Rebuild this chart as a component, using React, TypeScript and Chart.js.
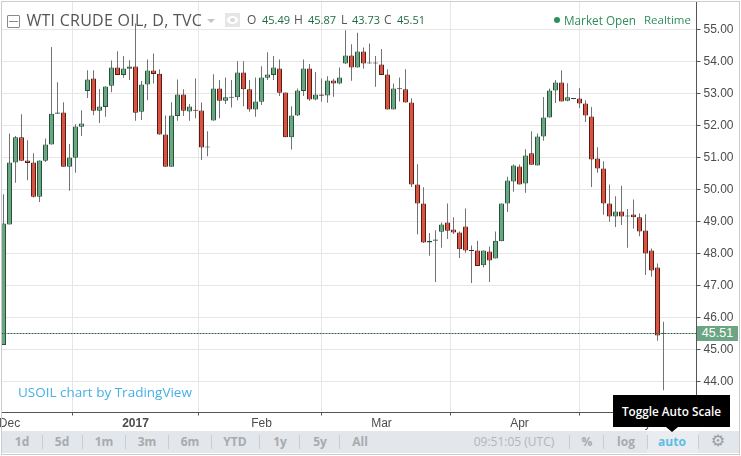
import React, { useEffect, useRef } from "react";
import { Chart, registerables } from "chart.js";

Chart.register(...registerables);

const opens = [45.14,48.91,50.84,51.63,50.91,50.84,49.77,50.90,51.41,52.37,52.41,50.71,50.99,51.96,53.08,53.47,52.46,52.58,53.24,53.81,53.58,53.77,53.84,52.43,53.28,53.72,53.62,51.72,50.71,52.30,52.97,52.44,52.48,52.47,51.31,52.16,53.16,52.77,52.87,52.88,53.66,53.13,52.50,52.74,53.49,53.58,53.78,53.03,51.63,52.31,53.08,53.78,52.81,52.97,52.94,53.41,53.31,53.94,54.19,53.81,54.31,53.94,53.97,53.91,53.59,52.50,53.16,53.13,52.72,50.16,49.56,48.34,48.40,48.68,48.97,48.75,48.66,48.84,48.10,48.09,47.63,48.06,47.84,48.38,49.56,50.25,50.72,50.19,51.13,50.75,51.66,52.25,53.09,53.34,52.77,52.83,52.84,52.69,52.28,50.97,50.66,49.56,49.16,49.31,49.16,49.22,49.13,48.72,48.09,47.56,45.49];
const highs = [49.85,51.75,51.67,52.35,51.54,51.13,50.91,51.59,54.45,53.35,52.73,51.42,52.04,52.48,53.73,53.73,53.14,53.23,54.03,54.32,54.17,54.04,55.19,53.39,54.06,54.25,53.75,52.31,52.73,53.44,53.13,52.67,53.47,52.72,51.82,53.60,53.42,53.50,53.42,54.01,54.01,53.42,53.50,53.85,54.29,54.17,54.06,53.03,52.60,53.16,54.06,53.92,53.67,53.47,53.54,53.46,53.81,54.98,54.54,54.90,54.44,54.56,54.17,54.39,53.76,53.31,53.50,53.76,52.85,50.79,50.07,48.64,48.73,48.97,49.56,49.13,48.69,49.41,48.25,48.40,48.09,48.22,48.69,49.56,50.40,50.78,50.78,51.26,51.82,51.75,52.89,53.16,53.42,53.73,53.32,52.85,53.17,52.79,52.58,51.32,50.88,50.16,49.79,50.12,49.39,49.69,49.25,49.23,48.16,47.69,45.87];
const lows = [45.14,48.91,50.21,50.90,50.29,49.75,49.61,50.86,51.41,52.37,50.71,49.96,50.52,51.67,52.86,52.32,52.08,52.27,53.04,53.58,53.49,53.42,52.15,52.17,52.79,53.31,51.71,50.71,50.71,52.15,52.30,52.15,52.23,50.92,51.04,52.15,52.23,52.67,52.56,52.79,52.60,52.43,52.27,52.64,53.42,53.42,52.92,51.63,51.25,52.30,52.92,52.77,52.79,52.74,52.71,52.90,53.29,53.92,53.40,53.81,53.77,53.94,53.21,53.58,52.50,52.50,52.75,52.72,50.08,48.60,48.33,47.93,47.11,48.18,48.45,48.61,47.86,48.02,47.08,47.61,47.56,47.11,47.84,48.38,49.30,49.93,50.16,49.90,50.77,50.75,51.52,52.25,52.70,52.75,52.76,52.82,52.55,52.11,50.08,50.52,49.21,48.99,48.83,48.89,48.18,48.77,48.54,47.33,47.27,45.27,43.73];
const closes = [48.94,50.84,51.63,50.90,50.83,49.77,50.91,51.41,52.37,52.41,50.71,51.00,51.97,52.06,53.44,52.46,52.59,53.22,53.81,53.58,53.78,53.84,52.40,53.28,53.72,53.61,51.72,50.71,52.31,52.97,52.46,52.59,52.46,51.31,51.34,53.16,52.77,52.88,52.89,53.66,53.13,52.50,52.75,53.50,53.59,53.81,53.02,51.63,52.31,53.09,53.78,52.81,52.97,52.93,53.41,53.31,53.50,54.19,53.81,54.31,53.94,53.97,53.94,53.58,52.50,53.16,53.13,52.72,50.16,49.56,48.34,48.40,48.44,48.91,48.71,48.66,48.13,48.09,48.08,47.61,48.09,47.78,48.40,49.56,50.28,50.75,50.16,51.06,50.77,51.66,52.25,53.09,53.34,52.75,52.88,52.85,52.69,52.31,50.94,50.66,49.56,49.16,49.31,49.16,49.19,49.13,48.69,48.00,47.47,45.44,45.51];

const yTickValues = [44,45,46,47,48,49,50,51,52,53,54,55];
const xTickIndexes = [1,22,43,63,86,106];
const xTickLabels = ["Dec","2017","Feb","Mar","Apr","May"];
const priceLineLevel = 45.5;
const rangeButtons = ["1d","5d","1m","3m","6m","YTD","1y","5y","All"];
const rangeCenters = [22,62,104,147,190,235,280,320,360];
const separators = [42,82,125,168,211,259,299,339,569,603,647,698];

const candleIndex = opens.map((_, i) => i);
const isUp = (i: number) => closes[i] >= opens[i];

const txt = (
  s: string,
  left: number,
  cy: number,
  size: number,
  color: string,
  extra: React.CSSProperties = {}
) => (
  <span
    style={{
      position: "absolute",
      left,
      top: cy - 10,
      height: 20,
      lineHeight: "20px",
      fontSize: size,
      color,
      whiteSpace: "nowrap",
      fontFamily: "'Open Sans', sans-serif",
      ...extra,
    }}
  >
    {s}
  </span>
);

const mid = (s: string, cx: number, cy: number, size: number, color: string, extra: React.CSSProperties = {}) =>
  txt(s, cx, cy, size, color, { transform: "translateX(-50%)", ...extra });

export default function App() {
  const ref = useRef<HTMLCanvasElement>(null);
  useEffect(() => {
    const chart = new Chart(ref.current!, {
      type: "bar",
      data: {
        datasets: [
          {
            type: "line",
            data: [{ x: -1 / 3, y: priceLineLevel }, { x: 115.5, y: priceLineLevel }],
            borderColor: "#27613f",
            borderWidth: 1,
            borderDash: [2, 1],
            pointRadius: 0,
            order: 0,
          },
          {
            data: candleIndex.map((i) => ({ x: i, y: [Math.min(opens[i], closes[i]), Math.max(opens[i], closes[i])] })),
            backgroundColor: candleIndex.map((i) => (isUp(i) ? "#6ba583" : "#d75442")),
            borderColor: candleIndex.map((i) => (isUp(i) ? "#225437" : "#5b1a13")),
            borderWidth: 1,
            borderSkipped: false,
            inflateAmount: 0,
            barThickness: 5,
            minBarLength: 1,
            grouped: false,
            order: 1,
          },
          {
            data: candleIndex.map((i) => ({ x: i, y: [lows[i], highs[i]] })),
            backgroundColor: "#737375",
            borderWidth: 0,
            inflateAmount: 0,
            barThickness: 1,
            grouped: false,
            order: 2,
          },
        ] as any,
      },
      options: {
        animation: false,
        responsive: false,
        devicePixelRatio: 1,
        layout: { padding: { left: 1.5, top: 1.5, right: 0, bottom: 0 } },
        plugins: { legend: { display: false }, tooltip: { enabled: false } },
        scales: {
          x: {
            type: "linear",
            min: -1 / 3,
            max: 115.5,
            offset: false,
            border: { display: true, color: "#555555", width: 1 },
            grid: { color: "#e6e6e6", tickColor: "#555555", tickLength: 3, lineWidth: 1 },
            ticks: {
              autoSkip: false,
              maxRotation: 0,
              padding: 1,
              color: "#4c4c4c",
              font: (ctx: any) => ({
                family: "'Liberation Sans', Arial, sans-serif",
                size: 12,
                weight: ctx.tick && ctx.tick.value === 22 ? "bold" : "normal",
              }),
              callback: (v: any) => {
                const i = xTickIndexes.indexOf(v);
                return i >= 0 ? xTickLabels[i] : "";
              },
            },
            afterBuildTicks: (s: any) => {
              s.ticks = xTickIndexes.map((value) => ({ value }));
            },
            afterFit: (s: any) => {
              s.height = 43.5;
              s.paddingLeft = 0;
              s.paddingRight = 0;
            },
          },
          y: {
            type: "linear",
            position: "right",
            min: 43.03125,
            max: 55.875,
            border: { display: true, color: "#555555", width: 1 },
            grid: { color: "#e6e6e6", tickColor: "#555555", tickLength: 4, lineWidth: 1 },
            ticks: {
              padding: 3,
              color: "#4c4c4c",
              font: { family: "'Liberation Sans', Arial, sans-serif", size: 12 },
              callback: (v: any) => Number(v).toFixed(2),
            },
            afterBuildTicks: (s: any) => {
              s.ticks = yTickValues.map((value) => ({ value }));
            },
            afterFit: (s: any) => {
              s.width = 44.5;
              s.paddingTop = 0;
              s.paddingBottom = 0;
            },
          },
        },
      } as any,
    });
    return () => chart.destroy();
  }, []);

  const val = "#1f6b41";
  const lab = "#555555";
  const grn = "#2f8f5b";
  const tool = "#a8abae";

  return (
    <div style={{ position: "absolute", left: 0, top: 0, width: 741, height: 456, background: "#fff", overflow: "hidden" }}>
      <canvas ref={ref} width={741} height={456} style={{ position: "absolute", left: 0, top: 0, display: "block" }} />

      {/* collapse icon */}
      <div style={{ position: "absolute", left: 7, top: 15, width: 11, height: 11, border: "1px solid #8a8a8a", borderRadius: 1, background: "#fff" }}>
        <div style={{ position: "absolute", left: 1, right: 1, top: 5, height: 1, background: "#8a8a8a" }} />
      </div>
      {txt("WTI CRUDE OIL, D, TVC", 26.5, 20, 16, "#555555", { letterSpacing: 0.25 })}
      <div style={{ position: "absolute", left: 207, top: 19, width: 0, height: 0, borderLeft: "4px solid transparent", borderRight: "4px solid transparent", borderTop: "4px solid #c4c4c4" }} />
      {/* eye icon */}
      <div style={{ position: "absolute", left: 225, top: 13, width: 15, height: 14, background: "#e6e6e6" }}>
        <div style={{ position: "absolute", left: 2, top: 3, width: 11, height: 8, borderRadius: "50%", background: "#fff" }} />
        <div style={{ position: "absolute", left: 5, top: 5, width: 5, height: 4, borderRadius: "50%", background: "#d8d8d8" }} />
      </div>
      {txt("O", 247, 20, 12, lab)}
      {txt("45.49", 262, 20, 11, val)}
      {txt("H", 294, 20, 12, lab)}
      {txt("45.87", 308, 20, 11, val)}
      {txt("L", 341, 20, 12, lab)}
      {txt("43.73", 352, 20, 11, val)}
      {txt("C", 384, 20, 12, lab)}
      {txt("45.51", 397, 20, 11, val)}

      <div style={{ position: "absolute", left: 554, top: 17, width: 6, height: 6, borderRadius: "50%", background: grn }} />
      {txt("Market Open", 564, 20, 11.75, grn)}
      {txt("Realtime", 644, 20, 11.5, grn)}

      {txt("USOIL chart by TradingView", 18, 392, 13.5, "#45b1e6")}

      {/* last price label */}
      <div style={{ position: "absolute", left: 697, top: 326, width: 41, height: 15, background: "#6ba583", color: "#fff", fontFamily: "'Liberation Sans', Arial, sans-serif", fontSize: 12.5, lineHeight: "15px", textAlign: "center" }}>
        45.51
      </div>

      {/* bottom toolbar */}
      <div style={{ position: "absolute", left: 2, top: 431, width: 737, height: 22, background: "#e3e6ea" }} />
      <div style={{ position: "absolute", left: 647, top: 431, width: 51, height: 22, background: "#eaecef" }} />
      {separators.map((x) => (
        <div key={x} style={{ position: "absolute", left: x, top: 435, width: 1, height: 14, background: "#c9ccd0" }} />
      ))}
      {rangeButtons.map((b, i) => (
        <React.Fragment key={b}>{mid(b, rangeCenters[i], 442, 12, tool, { fontWeight: 700 })}</React.Fragment>
      ))}
      {mid("09:51:05 (UTC)", 514, 442, 12, "#b3b6b9")}
      {mid("%", 587, 442, 12, tool, { fontWeight: 700 })}
      {mid("log", 626, 442, 12, tool, { fontWeight: 700 })}
      {mid("auto", 672, 442, 12, "#5cbde6", { fontWeight: 700 })}
      {mid("⚙", 718, 441, 16, "#9a9da0", { fontFamily: "'DejaVu Sans', sans-serif" })}

      {/* tooltip */}
      <div style={{ position: "absolute", left: 613, top: 395, width: 117, height: 32, background: "#000", color: "#fff", fontFamily: "'Open Sans', sans-serif", fontSize: 11.75, lineHeight: "32px", textAlign: "center", fontWeight: 600 }}>
        Toggle Auto Scale
      </div>
      <div style={{ position: "absolute", left: 666, top: 427, width: 0, height: 0, borderLeft: "6px solid transparent", borderRight: "6px solid transparent", borderTop: "5px solid #000" }} />

      {/* frame */}
      <div style={{ position: "absolute", left: 1, top: 1, width: 737, height: 452, border: "1px solid #cccccc", pointerEvents: "none" }} />
    </div>
  );
}
